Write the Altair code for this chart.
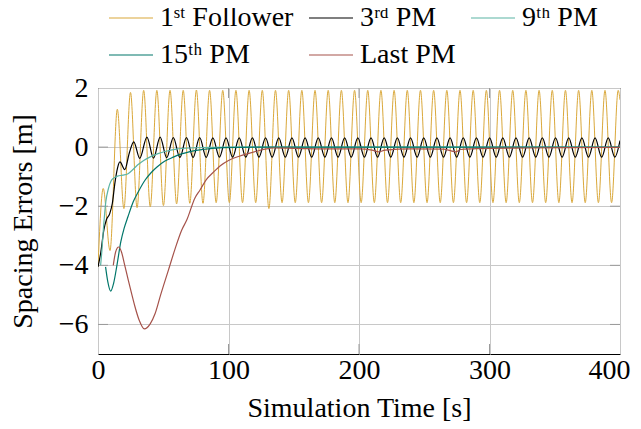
import altair as alt
import pandas as pd

series_names = ["1ˢᵗ Follower", "3ʳᵈ PM", "9ᵗʰ PM", "15ᵗʰ PM", "Last PM"]
series_colors = ["#DAA83A", "#000000", "#5AB4A4", "#00766A", "#A5524A"]

# 1st Follower: extremes of the oscillation
gold_t = [0, 4.0, 9.2, 14.8, 19.85, 24.9, 29.95, 35.0, 40.05, 45.1, 50.15, 55.2, 60.25,
          65.3, 70.35, 75.4, 80.45, 85.5, 90.55, 95.6, 100.65, 105.7, 110.75, 115.8,
          120.85, 125.9, 130.95, 136.0, 141.05, 146.1, 151.15, 156.2, 161.25, 166.3,
          171.35, 176.4, 181.45, 186.5, 191.55, 196.6, 201.65, 206.7, 211.75, 216.8,
          221.85, 226.9, 231.95, 237.0, 242.05, 247.1, 252.15, 257.2, 262.25, 267.3,
          272.35, 277.4, 282.45, 287.5, 292.55, 297.6, 302.65, 307.7, 312.75, 317.8,
          322.85, 327.9, 332.95, 338.0, 343.05, 348.1, 353.15, 358.2, 363.25, 368.3,
          373.35, 378.4, 383.45, 388.5, 393.55, 398.6, 400]
gold_v = [-4.05, -1.4, -3.5, 1.28, -2.08, 1.85, -2.05, 1.92, -2.02, 1.92, -1.98, 1.92, -1.92,
          1.92, -1.9, 1.93, -1.9, 1.92, -1.88, 1.92, -1.88, 1.92, -1.88, 1.92,
          -1.88, 1.92, -2.08, 1.92, -1.88, 1.92, -1.88, 1.92, -1.88, 1.92,
          -1.88, 1.92, -1.88, 1.92, -1.88, 1.92, -1.88, 1.92, -1.88, 1.92,
          -1.88, 1.92, -1.88, 1.92, -1.88, 1.92, -1.88, 1.92, -1.88, 1.92,
          -1.88, 1.92, -1.88, 1.92, -1.88, 1.92, -1.88, 1.92, -1.88, 1.92,
          -1.88, 1.92, -1.88, 1.92, -1.88, 1.92, -1.88, 1.92, -1.88, 1.92,
          -1.88, 1.92, -1.88, 1.92, -1.88, 1.92, 1.6]

# 3rd PM
black_t = [0, 2, 4.5, 6.5, 9, 11, 13, 15, 16.8, 20.5, 24, 27.4, 32.0, 37.5, 42.55, 47.6,
           52.65, 57.7, 62.75, 67.8, 72.85, 77.9, 82.95, 88.0, 93.05, 98.1, 103.15, 108.2,
           113.25, 118.3, 123.35, 128.4, 133.45, 138.5, 143.55, 148.6, 153.65, 158.7,
           163.75, 168.8, 173.85, 178.9, 183.95, 189.0, 194.05, 199.1, 204.15, 209.2,
           214.25, 219.3, 224.35, 229.4, 234.45, 239.5, 244.55, 249.6, 254.65, 259.7,
           264.75, 269.8, 274.85, 279.9, 284.95, 290.0, 295.05, 300.1, 305.15, 310.2,
           315.25, 320.3, 325.35, 330.4, 335.45, 340.5, 345.55, 350.6, 355.65, 360.7,
           365.75, 370.8, 375.85, 380.9, 385.95, 391.0, 396.05, 400]
black_v = [-4.05, -3.6, -2.8, -2.45, -2.25, -1.9, -1.2, -0.7, -0.5, -0.76, -0.2, 0.18, -0.38,
           0.34, -0.37, 0.34, -0.36, 0.32, -0.35, 0.32, -0.35, 0.32, -0.35, 0.31, -0.34,
           0.31, -0.34, 0.31, -0.34, 0.31, -0.34, 0.31, -0.34, 0.31, -0.34, 0.31, -0.34,
           0.31, -0.34, 0.31, -0.34, 0.31, -0.34, 0.31, -0.34, 0.31, -0.34, 0.31, -0.34,
           0.31, -0.34, 0.31, -0.34, 0.31, -0.34, 0.31, -0.34, 0.31, -0.34, 0.31, -0.34,
           0.31, -0.34, 0.31, -0.34, 0.31, -0.34, 0.31, -0.34, 0.31, -0.34, 0.31, -0.34,
           0.31, -0.34, 0.31, -0.34, 0.31, -0.34, 0.31, -0.34, 0.31, -0.34, 0.31, -0.34, 0.22]

# 9th PM
lteal_t = [2, 3, 4.1, 6, 8, 10, 12, 15, 19, 23, 27, 31, 35, 40, 46, 52, 60, 70, 85, 100, 200,
           300, 400]
lteal_v = [-4.0, -3.5, -2.8, -1.85, -1.4, -1.15, -1.05, -0.98, -0.95, -0.9, -0.75, -0.58,
           -0.45, -0.33, -0.22, -0.14, -0.07, -0.03, -0.01, 0.0, 0.0, 0.0, 0.0]

# 15th PM
dteal_t = [5.8, 7.5, 9.7, 12, 14.5, 17.5, 20, 23, 27, 31, 36, 41, 45, 51, 57.7, 64, 70.5, 80,
           96, 120, 200, 300, 400]
dteal_v = [-4.05, -4.55, -4.87, -4.6, -4.0, -3.2, -2.75, -2.35, -1.85, -1.5, -1.12, -0.85,
           -0.68, -0.48, -0.34, -0.23, -0.15, -0.08, -0.02, 0.0, 0.0, 0.0, 0.0]

# Last PM
brown_t = [11.7, 13.5, 15.8, 18, 20.5, 23.2, 26, 28.4, 31.5, 35.5, 40, 43.7, 48, 53.9, 59,
           64.1, 68, 74.3, 78.2, 83, 88.4, 94, 100, 108.8, 115, 121.6, 128, 134, 150, 180,
           200, 210, 215, 220, 240, 265, 270, 274, 278, 290, 330, 360, 400]
brown_v = [-4.0, -3.55, -3.38, -3.55, -4.0, -4.5, -5.0, -5.41, -5.85, -6.15, -5.98, -5.64,
           -5.0, -4.17, -3.45, -2.81, -2.47, -1.72, -1.45, -1.1, -0.85, -0.62, -0.45, -0.3,
           -0.22, -0.14, -0.07, -0.03, -0.04, -0.06, -0.06, -0.1, -0.16, -0.1, -0.06, -0.07,
           -0.12, -0.16, -0.08, -0.05, -0.03, -0.02, -0.01]

x_ticks = [0, 100, 200, 300, 400]
y_ticks = [-6, -4, -2, 0, 2]

X_DOMAIN = [0, 400]
Y_DOMAIN = [-7, 2]
W, H = 522, 266
FONT = "Liberation Serif, DejaVu Serif, serif"
FS = 28
TICK_PX = 10

all_t = [gold_t, black_t, lteal_t, dteal_t, brown_t]
all_v = [gold_v, black_v, lteal_v, dteal_v, brown_v]
widths = [1.0, 1.2, 1.2, 1.2, 1.2]

color_scale = alt.Scale(domain=series_names, range=series_colors)
xs = alt.Scale(domain=X_DOMAIN, nice=False)
ys = alt.Scale(domain=Y_DOMAIN, nice=False)

# nudge the last x label so that it stays inside the page
last_label_offset = {"condition": {"test": "datum.value == 400", "value": -11}, "value": 0}

layers = []

# inward tick marks (pgfplots style), built from the tick values
dx = TICK_PX * (X_DOMAIN[1] - X_DOMAIN[0]) / W
dy = TICK_PX * (Y_DOMAIN[1] - Y_DOMAIN[0]) / H
tick_rows = []
for xv in x_ticks[1:-1]:
    tick_rows.append({"a": xv, "a2": xv, "b": Y_DOMAIN[0], "b2": Y_DOMAIN[0] + dy})
    tick_rows.append({"a": xv, "a2": xv, "b": Y_DOMAIN[1], "b2": Y_DOMAIN[1] - dy})
for yv in y_ticks[:-1]:
    tick_rows.append({"a": X_DOMAIN[0], "a2": X_DOMAIN[0] + dx, "b": yv, "b2": yv})
    tick_rows.append({"a": X_DOMAIN[1], "a2": X_DOMAIN[1] - dx, "b": yv, "b2": yv})
ticks_df = pd.DataFrame(tick_rows)

for name, ts, vs, w in zip(series_names, all_t, all_v, widths):
    df = pd.DataFrame({"t": ts, "v": vs, "series": name})
    layers.append(
        alt.Chart(df).mark_line(interpolate="monotone", strokeWidth=w, clip=True).encode(
            x=alt.X("t:Q", scale=xs,
                    axis=alt.Axis(values=x_ticks, title="Simulation Time [s]",
                                  labelPadding=2, titlePadding=10,
                                  labelOffset=last_label_offset)),
            y=alt.Y("v:Q", scale=ys,
                    axis=alt.Axis(values=y_ticks, title="Spacing Errors [m]",
                                  labelPadding=10, titlePadding=21)),
            color=alt.Color("series:N", scale=color_scale,
                            legend=alt.Legend(orient="none", legendX=10, legendY=-93,
                                              columns=3, direction="horizontal",
                                              title=None, symbolType="stroke",
                                              symbolSize=1936, symbolStrokeWidth=1.2,
                                              labelFont=FONT, labelFontSize=FS,
                                              labelLimit=400, labelOffset=6,
                                              columnPadding=12, rowPadding=0,
                                              padding=0)),
        )
    )

tick_layer = alt.Chart(ticks_df).mark_rule(color="#9a9a9a", strokeWidth=1).encode(
    x=alt.X("a:Q", scale=xs), x2="a2:Q",
    y=alt.Y("b:Q", scale=ys), y2="b2:Q",
)

chart = alt.layer(*layers[:1], tick_layer, *layers[1:]).properties(
    width=W, height=H,
    autosize=alt.AutoSizeParams(type="none"),
    padding={"left": 90, "top": 80, "right": 13, "bottom": 67},
).configure_view(stroke="black", strokeWidth=1).configure_axis(
    grid=True, gridColor="#c8c8c8", gridWidth=1, domain=False, ticks=False,
    labelFont=FONT, labelFontSize=FS, labelColor="black",
    titleFont=FONT, titleFontSize=FS, titleFontWeight="normal", titleColor="black",
).configure_axisY(labelFlush=False).configure_axisX(labelFlush=False)

chart.save("out.html", embed_options={"renderer": "svg", "actions": False})
